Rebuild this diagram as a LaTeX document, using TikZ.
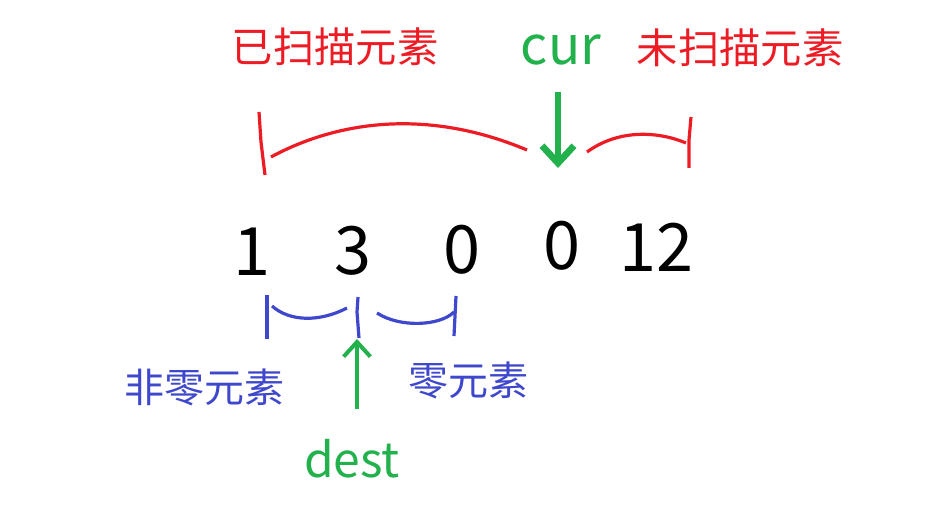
\documentclass[tikz,border=0pt]{standalone}
\usepackage{fontspec}
\setmainfont{Noto Sans CJK SC}
\usetikzlibrary{arrows.meta,positioning}
\definecolor{paintred}{RGB}{237,28,36}
\definecolor{paintgreen}{RGB}{34,177,76}
\definecolor{paintblue}{RGB}{63,72,204}
\tikzset{
    redlabel/.style={text=paintred, font=\fontsize{31}{31}\selectfont, inner sep=0pt},
    bluelabel/.style={text=paintblue, font=\fontsize{30}{30}\selectfont, inner sep=0pt},
    greenlabel/.style={text=paintgreen, font=\fontsize{40}{40}\selectfont, inner sep=0pt},
    num/.style={font=\fontsize{50}{50}\selectfont, inner sep=0pt},
    redbrace/.style={paintred, line width=2.4pt},
    bluebrace/.style={paintblue, line width=2.4pt},
    pointer/.style={-{Straight Barb[length=13pt, width=24pt]}, line width=5pt, paintgreen},
    thinpointer/.style={-{Straight Barb[length=11pt, width=20pt]}, line width=3pt, paintgreen}
}

\begin{document}
\begin{tikzpicture}[x=0.75pt, y=-0.75pt]
            \useasboundingbox (0,0) rectangle (949,524);
            % labels
            \node[redlabel] (scanned) at (335,47) {已扫描元素};
            \node[greenlabel, anchor=base] (cur) at (561,65) {cur};
            \node[redlabel] (unscanned) at (740,48) {未扫描元素};
            % array
            \node[num] (n1) at (252,252) {1};
            \node[num] (n3) at (353,251) {3};
            \node[num] (n0a) at (462,250) {0};
            \node[num] (n0b) at (562,246) {0};
            \node[num] (n12) at (656,247) {12};
            \node[bluelabel] (nonzero) at (204,387) {非零元素};
            \node[bluelabel] (zero) at (468,380) {零元素};
            \node[greenlabel, font=\fontsize{36}{36}\selectfont, anchor=base] (dest) at (352,477) {dest};
            
            % red braces
            \draw[redbrace] (259,112) -- (261,142) -- (265,175);
            \draw[redbrace] (271,157) .. controls (330,125) and (420,105) .. (527,150);
            \draw[redbrace] (587,152) .. controls (620,128) and (660,132) .. (686,143);
            \draw[redbrace] (691,117) -- (689,140) -- (689,168);
            % blue braces
            \draw[bluebrace] (267,295) -- (267,339);
            \draw[bluebrace] (272,306) .. controls (290,322) and (320,322) .. (347,308);
            \draw[bluebrace] (358,297) -- (357,312) -- (359,338);
            \draw[bluebrace] (377,313) .. controls (400,328) and (440,326) .. (454,312);
            \draw[bluebrace] (456,296) -- (454,336);
            
            % pointers
            \coordinate (curtail) at (558,92);
            \coordinate (curtip) at (558,168);
            \coordinate (desttail) at (357,409);
            \coordinate (desttip) at (357,339);
            \draw[pointer] (curtail) -- (curtip);
            \draw[thinpointer] (desttail) -- (desttip);
        \end{tikzpicture}
\end{document}
